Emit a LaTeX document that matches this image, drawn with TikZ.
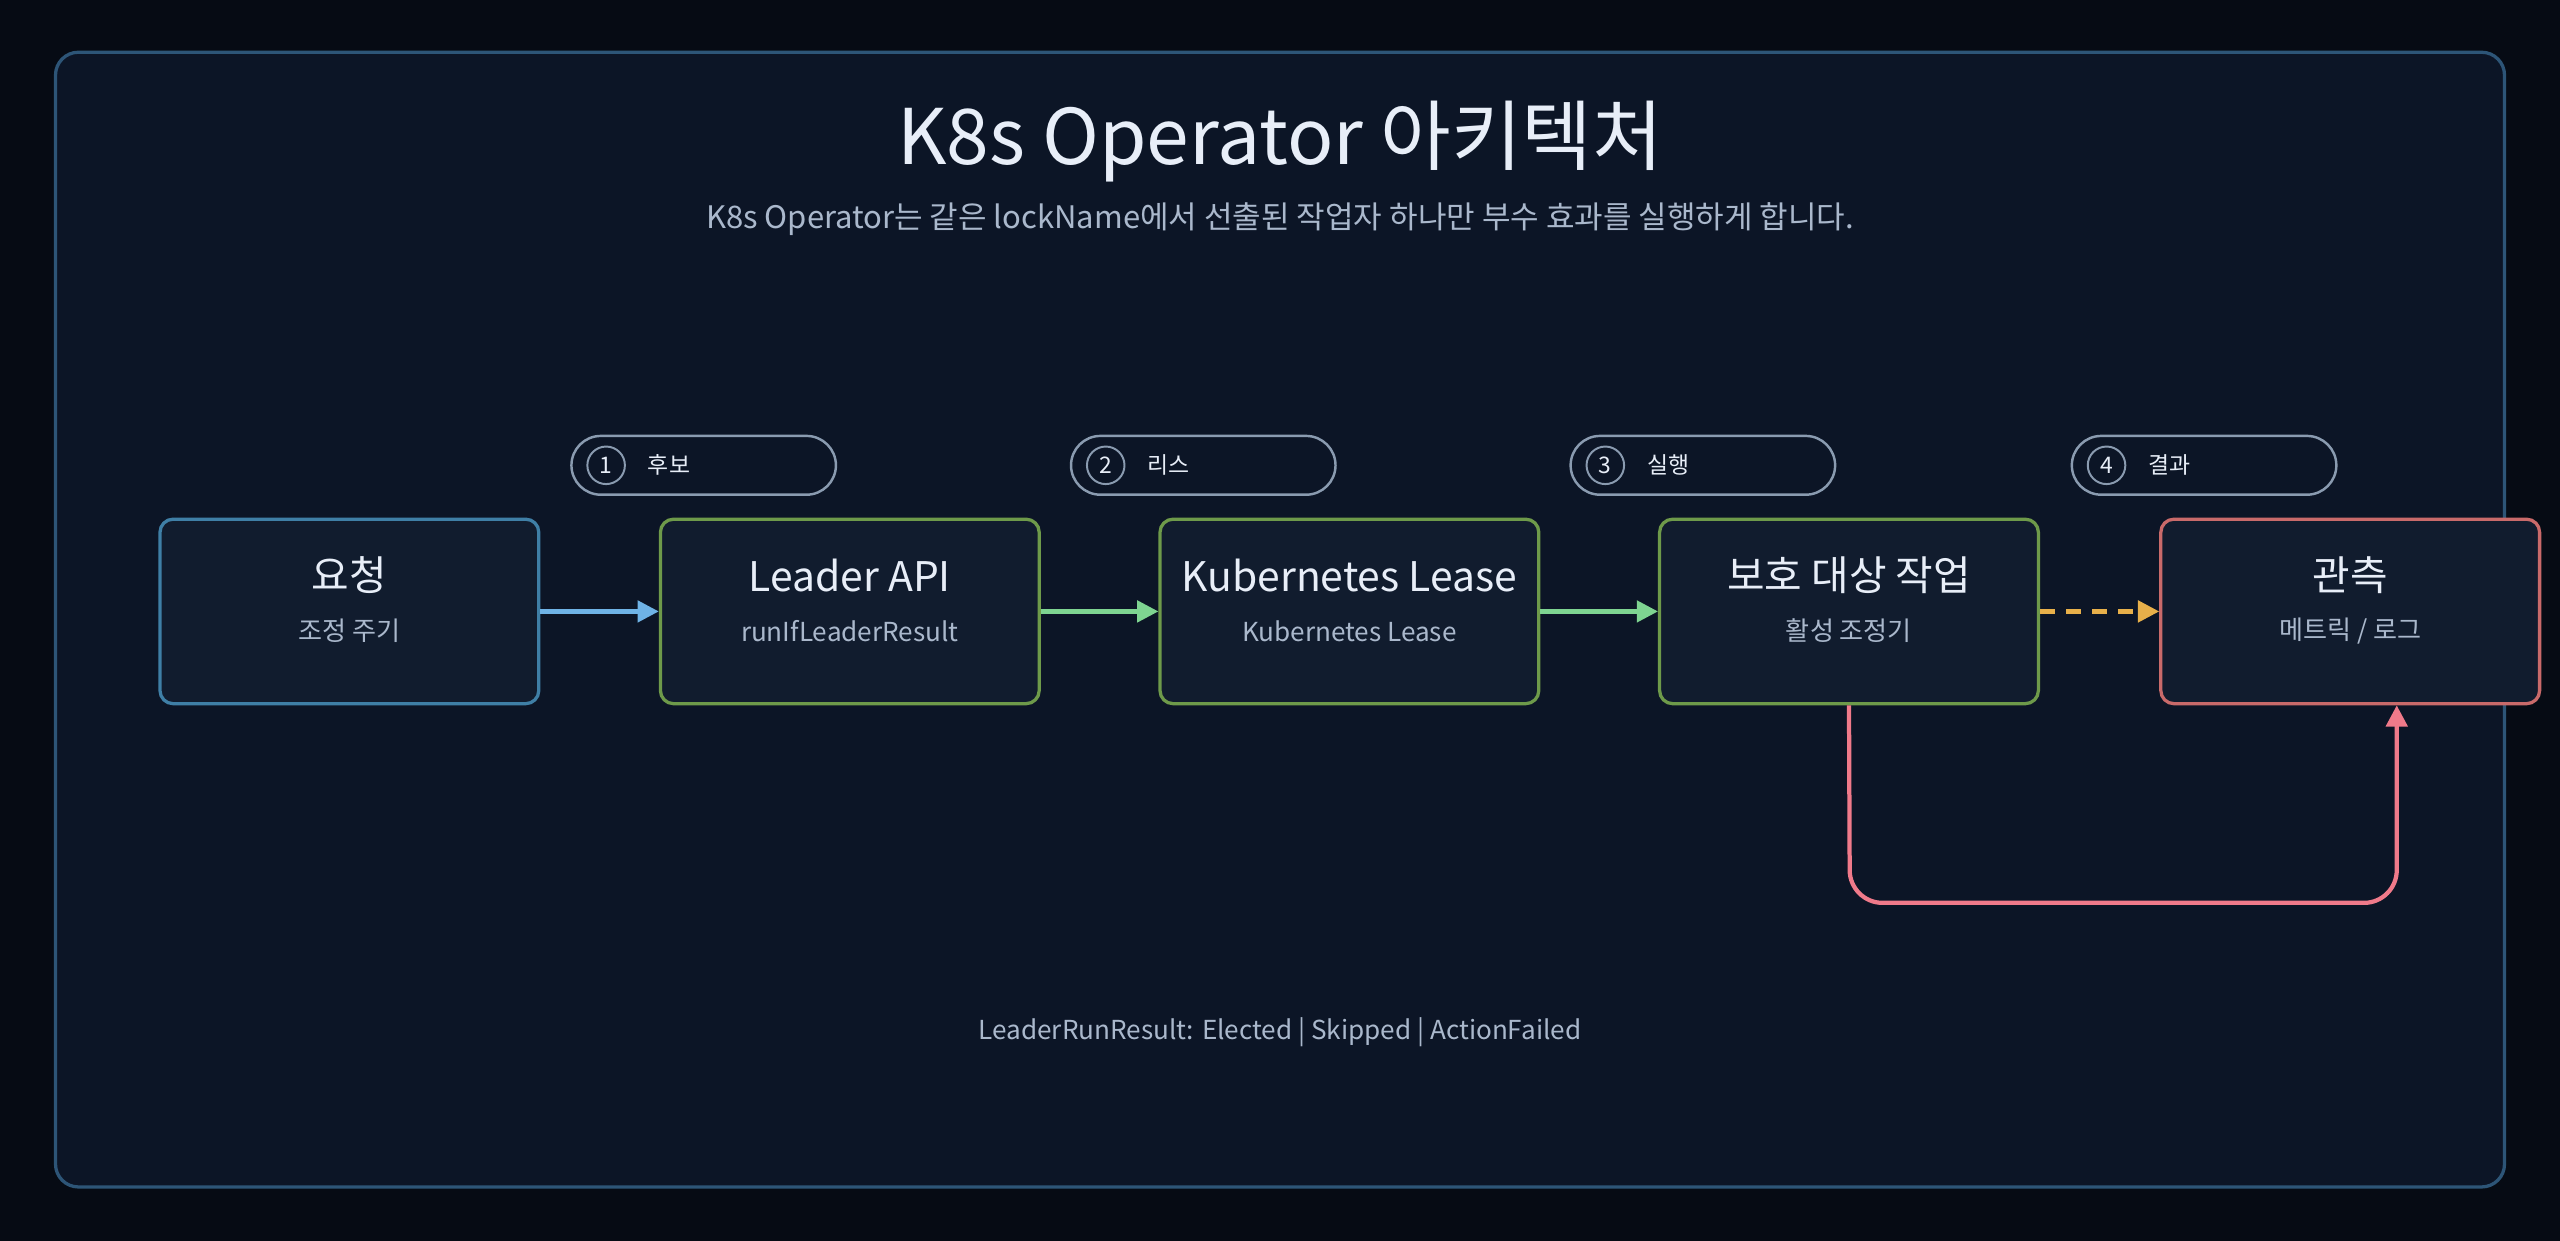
\documentclass[tikz,border=0pt]{standalone}
\usepackage{fontspec}
\setmainfont{Noto Sans CJK KR}
\usetikzlibrary{arrows.meta}
\definecolor{bg}{HTML}{060B14}
\definecolor{panel}{HTML}{0C1526}
\definecolor{panelline}{HTML}{2D5577}
\definecolor{boxfill}{HTML}{111C2E}
\definecolor{bluel}{HTML}{3F7FA6}
\definecolor{greenl}{HTML}{6E9A4A}
\definecolor{redl}{HTML}{C96A6A}
\definecolor{barrow}{HTML}{6FB3E6}
\definecolor{garrow}{HTML}{7ED491}
\definecolor{oarrow}{HTML}{E8B04A}
\definecolor{rarrow}{HTML}{F07A8A}
\definecolor{titlec}{HTML}{E8EEF8}
\definecolor{subc}{HTML}{AAB8CC}
\definecolor{pillc}{HTML}{8A9BB0}
\begin{document}
\begin{tikzpicture}[x=1pt,y=-1pt,
  box/.style={draw,line width=2pt,fill=boxfill,rounded corners=8pt,minimum width=232pt,minimum height=113pt,inner sep=0pt},
  btitle/.style={text=titlec,font=\fontsize{25}{28}\selectfont},
  bsub/.style={text=subc,font=\fontsize{16}{19}\selectfont},
  pill/.style={draw=pillc,line width=1.5pt,rounded corners=18pt,minimum width=162pt,minimum height=36pt,inner sep=0pt},
  num/.style={circle,draw=pillc,line width=1.2pt,minimum size=23pt,inner sep=0pt,text=titlec,font=\fontsize{14}{16}\selectfont},
  ptext/.style={text=titlec,font=\fontsize{14}{16}\selectfont,anchor=west},
  arr/.style={line width=2.6pt,-{Triangle[length=13pt,width=13pt]}}]
\fill[bg] (0,0) rectangle (1568,760);
\useasboundingbox (0,0) rectangle (1568,760);
\draw[fill=panel,draw=panelline,line width=2pt,rounded corners=14pt] (34,32) rectangle (1534,727);
\node[text=titlec,font=\fontsize{47}{50}\selectfont] (title) at (784,87) {K8s Operator 아키텍처};
\node[text=subc,font=\fontsize{19}{22}\selectfont] (sub) at (784,134) {K8s Operator는 같은 lockName에서 선출된 작업자 하나만 부수 효과를 실행하게 합니다.};
\node[box,draw=bluel] (b1) at (214,374.5) {};
\node[box,draw=greenl] (b2) at (520.5,374.5) {};
\node[box,draw=greenl] (b3) at (826.5,374.5) {};
\node[box,draw=greenl] (b4) at (1132.5,374.5) {};
\node[box,draw=redl] (b5) at (1439.5,374.5) {};
\foreach \b/\t/\s in {b1/요청/조정 주기, b2/Leader API/runIfLeaderResult, b3/Kubernetes Lease/Kubernetes Lease, b4/보호 대상 작업/활성 조정기, b5/관측/{메트릭 / 로그}}{
  \node[btitle] (\b t) at ([yshift=22pt]\b.center) {\t};
  \node[bsub] (\b s) at ([yshift=-12pt]\b.center) {\s};
}
\foreach \i/\x/\t in {1/431/후보, 2/737/리스, 3/1043/실행, 4/1350/결과}{
  \node[pill] (p\i) at (\x,285) {};
  \node[num] (n\i) at ([xshift=22pt]p\i.west) {\i};
  \node[ptext] (t\i) at ([xshift=10pt]n\i.east) {\t};
}
\draw[arr,barrow] (b1.east) -- (b2.west);
\draw[arr,garrow] (b2.east) -- (b3.west);
\draw[arr,garrow] (b3.east) -- (b4.west);
\draw[arr,oarrow,dash pattern=on 9pt off 7pt] (b4.east) -- (b5.west);
\coordinate (c1) at (1133,553);
\coordinate (c2) at (1468,553);
\draw[arr,rarrow,rounded corners=20pt] (b4.south) -- (c1) -- (c2) -- (b5.south -| c2);
\node[text=subc,font=\fontsize{16}{19}\selectfont] (foot) at (784,632) {LeaderRunResult: Elected | Skipped | ActionFailed};
\end{tikzpicture}
\end{document}
